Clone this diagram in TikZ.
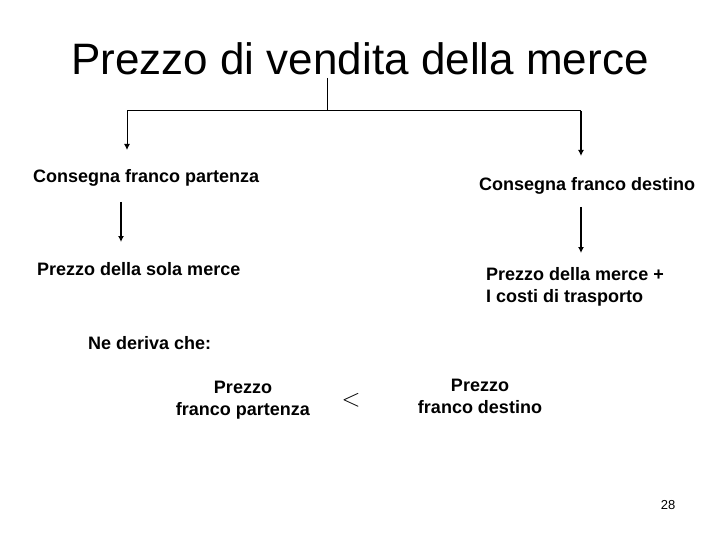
\documentclass[tikz,border=0pt]{standalone}
\usepackage{amsmath,amssymb}
\usepackage{fontspec}
\setmainfont{Liberation Sans}
\usepackage{tikz}
\usetikzlibrary{arrows.meta}

\begin{document}
\begin{tikzpicture}[x=1pt, y=-1pt, >={Latex[length=6pt,width=6pt]},
  lbl/.style={font=\fontsize{18}{21.6}\selectfont\bfseries, inner sep=0pt, align=left},
  thin line/.style={line width=1pt},
  thick line/.style={line width=2pt}]
  \useasboundingbox[fill=white] (0,0) rectangle (720,540);
  % Title and split
  \node[anchor=base, inner sep=0pt, font=\fontsize{44}{52}\selectfont] (title) at (360,75) {Prezzo di vendita della merce};
  \coordinate (top) at (327,78);
  \coordinate (split) at (327,111);
  \coordinate (lsplit) at (127,111);
  \coordinate (rsplit) at (581,111);
  \coordinate (lend) at (127,150);
  \coordinate (rend) at (581,156);
  % Labels
  \node[lbl, anchor=base west] (cfp) at (33,183) {Consegna franco partenza};
  \node[lbl, anchor=base west] (cfd) at (479,191) {Consegna franco destino};
  \node[lbl, anchor=base west] (psm) at (37,275) {Prezzo della sola merce};
  \node[lbl, anchor=base west] (pmc) at (486,302) {Prezzo della merce +\\I costi di trasporto};
  \node[lbl, anchor=base west] (nedr) at (88,349) {Ne deriva che:};
  \node[lbl, anchor=base, align=center] (pfp) at (243,415) {Prezzo\\franco partenza};
  \node[lbl, anchor=base, align=center] (pfd) at (480,413) {Prezzo\\franco destino};
  \node[inner sep=0pt, font=\fontsize{28}{30}\selectfont] (lt) at (351,400) {$<$};
  \node[anchor=base, inner sep=0pt, font=\fontsize{13}{15}\selectfont] (page) at (668,509) {28};
  % Arrows
  \coordinate (la) at (121,202);
  \coordinate (lb) at (121,242);
  \coordinate (ra) at (581,207);
  \coordinate (rb) at (581,253);
  \draw[thin line] (top) -- (split);
  \draw[thin line] (split) -- (lsplit);
  \draw[thin line] (split) -- (rsplit);
  \draw[thin line, ->] (lsplit) -- (lend);
  \draw[thick line, ->] (rsplit) -- (rend);
  \draw[thick line, ->] (la) -- (lb);
  \draw[thick line, ->] (ra) -- (rb);
\end{tikzpicture}
\end{document}
